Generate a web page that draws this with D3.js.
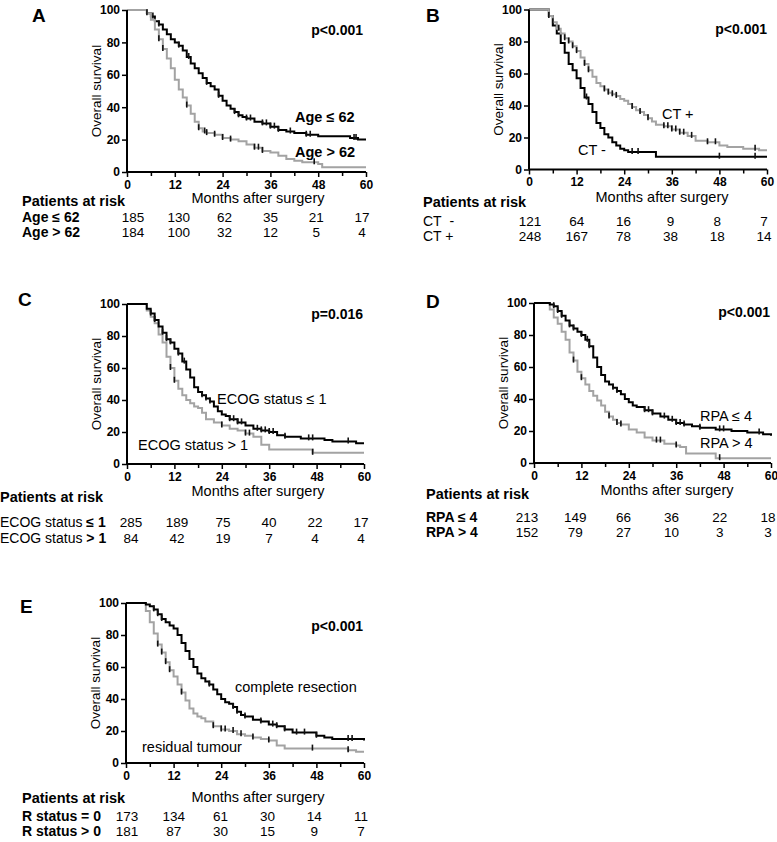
<!DOCTYPE html>
<html><head><meta charset="utf-8">
<script src="https://cdn.jsdelivr.net/npm/d3@7"></script>
<style>body{margin:0;background:#fff} svg{display:block;font-family:"Liberation Sans",Arial,sans-serif}</style>
</head><body><svg id="c" width="777" height="842"></svg>
<script>
// ---------- data ----------
const monthTicks = [0, 12, 24, 36, 48, 60];
const minorTicks = [6, 18, 30, 42, 54];
const survTicks = [0, 20, 40, 60, 80, 100];

const curveA1 = [[0,100],[4,100],[5,98],[6,96],[7,93],[8,91],[9,88],[10,85],[11,82],[12,80],[13,78],[14,75],[15,71],[16,67],[17,64],[18,61],[19,58],[20,55],[21,53],[22,51],[23,47],[24,44],[25,41],[26,39],[27,37],[28,35],[29,34],[30,33],[32,31],[34,30],[36,28],[38,26],[40,25],[42,24],[45,23],[48,22],[56,21],[58,20],[60,20]];
const curveA2 = [[0,100],[4.5,100],[5,98],[6,94],[7,88],[8,82],[9,76],[10,70],[11,64],[12,57],[13,51],[14,46],[15,41],[16,36],[17,31],[18,27],[19,25],[20,24],[22,23],[24,21],[26,20],[28,19],[30,17],[32,15],[34,13],[36,12],[38,10],[40,8],[42,7],[44,6],[48,5],[49,3],[60,3]];
const censorA1 = [5,6.5,8,13,15.5,20,23,27,28,30,31,34,35,36,37,38,41,45,46,57,57.5];
const censorA2 = [8,9,15,18,19.5,20,22,24,26,32,33,34,47];

const curveB1 = [[0,100],[4,100],[5,96],[6,90],[7,85],[8,79],[9,73],[10,66],[11,62],[12,57],[13,51],[14,45],[15,41],[16,36],[17,29],[18,26],[19,22],[20,20],[21,17],[22,15],[23,13],[24,12],[25,11],[32,8],[60,8]];
const curveB2 = [[0,100],[4,100],[5,96],[6,92],[7,88],[8,85],[9,82],[10,80],[11,77],[12,74],[13,70],[14,66],[15,62],[16,58],[17,54],[18,52],[19,50],[20,48],[21,47],[22,46],[23,44],[24,43],[25,41],[26,39],[27,37],[28,36],[29,34],[30,32],[31,30],[32,28],[34,27],[36,25],[38,23],[40,21],[42,18],[45,17],[48,15],[50,14],[54,13],[58,12],[60,12]];
const censorB1 = [14.5,26,27.5,48,57];
const censorB2 = [5,6,7.5,9,10,11,12,14,15,19,20,21,22,26,28,30,34,35,36,37,38,39,41,45,47,57];

const curveC1 = [[0,100],[4,100],[5,97],[6,94],[7,90],[8,86],[9,82],[10,78],[11,76],[12,72],[13,69],[14,64],[15,59],[16,54],[17,48],[18,45],[19,43],[20,41],[21,39],[22,36],[23,33],[24,31],[25,30],[26,28],[28,26],[30,24],[32,22],[34,21],[36,20],[38,18],[40,17],[44,16],[48,16],[50,15],[52,14],[58,13],[60,13]];
const curveC2 = [[0,100],[4,100],[5,96],[6,92],[7,88],[8,81],[9,76],[10,67],[11,60],[12,52],[13,47],[14,43],[15,40],[16,38],[17,36],[18,35],[19,32],[20,28],[22,26],[24,24],[26,22],[28,21],[30,19],[32,17],[34,12],[36,9],[44,9],[47,7],[60,7]];
const censorC1 = [6,7,9,10,11,13,14.5,19,20,21,26,27,28,29,33,34,35,36,37,40,46,47,56];
const censorC2 = [11,12,24,30,31,47];

const curveD1 = [[0,100],[3,100],[4,99],[5,98],[6,95],[7,92],[8,89],[9,86],[10,84],[11,82],[12,80],[13,77],[14,73],[15,66],[16,60],[17,55],[18,51],[19,49],[20,47],[21,45],[22,43],[23,40],[24,38],[25,36],[26,35],[28,33],[30,31],[32,29],[34,27],[36,25],[38,24],[40,23],[42,22],[46,21],[50,20],[54,19],[58,18],[60,17]];
const curveD2 = [[0,100],[3,100],[4,96],[5,91],[6,87],[7,82],[8,77],[9,69],[10,64],[11,57],[12,53],[13,49],[14,45],[15,42],[16,39],[17,36],[18,32],[19,29],[20,27],[21,25],[22,24],[24,21],[26,19],[28,16],[30,14],[33,12],[36,11],[37,10],[38.5,6],[45.5,6],[46,3],[60,3]];
const censorD1 = [5,6,7,9,10,12,13.5,14,20,21,28,29,30,33,35,36,37,38,42,47,48,57];
const censorD2 = [10,12,19,21,22,31,32,36,47];

const curveE1 = [[0,100],[4,100],[5,99],[6,98],[7,96],[8,93],[9,90],[10,88],[11,86],[12,84],[13,80],[14,75],[15,70],[16,65],[17,60],[18,56],[19,53],[20,51],[21,49],[22,46],[23,43],[24,40],[25,38],[26,37],[27,35],[28,32],[29,30],[30,29],[32,27],[34,26],[36,24],[38,23],[40,21],[42,19],[46,19],[48,17],[50,16],[52,15],[60,14]];
const curveE2 = [[0,100],[4,100],[5,95],[6,88],[7,81],[8,74],[9,69],[10,63],[11,58],[12,54],[13,49],[14,44],[15,39],[16,34],[17,31],[18,29],[19,28],[20,26],[22,23],[24,21],[26,20],[28,18],[30,17],[32,16],[34,15],[36,14],[38,11],[40,9],[55,9],[56,8],[58,7],[60,7]];
const censorE1 = [7,8,9,21,27,28,30,34,37,38,40,43,45,48,56,57];
const censorE2 = [8,9,10,11,14,22,24,25,27,29,32,36,47,56];

const riskA1 = [185,130,62,35,21,17], riskA2 = [184,100,32,12,5,4];
const riskB1 = [121,64,16,9,8,7],     riskB2 = [248,167,78,38,18,14];
const riskC1 = [285,189,75,40,22,17], riskC2 = [84,42,19,7,4,4];
const riskD1 = [213,149,66,36,22,18], riskD2 = [152,79,27,10,3,3];
const riskE1 = [173,134,61,30,14,11], riskE2 = [181,87,30,15,9,7];

const pValues = ["p<0.001","p<0.001","p=0.016","p<0.001","p<0.001"];
const curveLabelsA = ["Age \u2264 62","Age > 62"];
const curveLabelsB = ["CT +","CT -"];
const curveLabelsC = ["ECOG status \u2264 1","ECOG status > 1"];
const curveLabelsD = ["RPA \u2264 4","RPA > 4"];
const curveLabelsE = ["complete resection","residual tumour"];
const rowLabelsA = [["Age \u2264 62"],["Age > 62"]];
const rowLabelsB = [["CT\u00a0 -"],["CT +"]];
const rowLabelsC = [["ECOG status ","\u2264 1"],["ECOG status ","> 1"]];
const rowLabelsD = [["RPA \u2264 4"],["RPA > 4"]];
const rowLabelsE = [["R status = 0"],["R status > 0"]];

// ---------- layout ----------
const BLACK = "#000", GRAY = "#a3a3a3";
const panels = [
 {id:"A", L:127,R:366,T:10,B:172, lx:32,ly:22, px:363,py:35,
  curves:[{d:curveA1,c:censorA1,col:BLACK},{d:curveA2,c:censorA2,col:GRAY}],
  labels:curveLabelsA, labPos:[[295,122],[295,157]], labBold:true,
  tab:{hx:22,hy:206,mx:258,my:203,rows:[222,237],rx:22,n0:133,n1:362,bold:[true,true]},
  risk:[riskA1,riskA2], rowLab:rowLabelsA},
 {id:"B", L:529,R:767,T:9.5,B:169.5, lx:426,ly:22, px:767,py:34,
  curves:[{d:curveB1,c:censorB1,col:BLACK},{d:curveB2,c:censorB2,col:GRAY}],
  labels:curveLabelsB, labPos:[[662,119],[578,155]], labBold:false,
  tab:{hx:423,hy:207,mx:662,my:202,rows:[226,241],rx:423,n0:530,n1:764,bold:[false,false]},
  risk:[riskB1,riskB2], rowLab:rowLabelsB},
 {id:"C", L:127,R:364,T:304,B:464, lx:18,ly:306, px:363,py:319,
  curves:[{d:curveC2,c:censorC2,col:GRAY},{d:curveC1,c:censorC1,col:BLACK}],
  labels:curveLabelsC, labPos:[[217,404],[138,450]], labBold:false,
  tab:{hx:0,hy:502,mx:258,my:496,rows:[527,543],rx:0,n0:131,n1:361,bold:[true,true]},
  risk:[riskC1,riskC2], rowLab:rowLabelsC},
 {id:"D", L:534,R:771,T:303,B:463, lx:426,ly:308, px:770,py:317,
  curves:[{d:curveD2,c:censorD2,col:GRAY},{d:curveD1,c:censorD1,col:BLACK}],
  labels:curveLabelsD, labPos:[[700,421],[700,448]], labBold:false,
  tab:{hx:426,hy:499,mx:667,my:495,rows:[522,537],rx:426,n0:527,n1:768,bold:[true,true]},
  risk:[riskD1,riskD2], rowLab:rowLabelsD},
 {id:"E", L:126,R:364,T:603,B:763, lx:20,ly:613, px:363,py:631,
  curves:[{d:curveE2,c:censorE2,col:GRAY},{d:curveE1,c:censorE1,col:BLACK}],
  labels:curveLabelsE, labPos:[[235,692],[142,752]], labBold:false,
  tab:{hx:22,hy:803,mx:258,my:802,rows:[821,836],rx:22,n0:127,n1:361,bold:[true,true]},
  risk:[riskE1,riskE2], rowLab:rowLabelsE}
];

const svg = d3.select("#c");
function stepVal(curve, t){ let s = curve[0][1]; for (const p of curve){ if (p[0] <= t) s = p[1]; else break; } return s; }

panels.forEach((p, i) => {
  const g = svg.append("g");
  const x = d3.scaleLinear().domain([0,60]).range([p.L,p.R]);
  const y = d3.scaleLinear().domain([0,100]).range([p.B,p.T]);

  const line = d3.line().x(d=>x(d[0])).y(d=>y(d[1])).curve(d3.curveStepAfter);
  p.curves.forEach(cv => {
    g.append("path").datum(cv.d).attr("d", line).attr("fill","none")
      .attr("stroke", cv.col).attr("stroke-width", 2);
  });
  p.curves.forEach(cv => {
    g.selectAll(null).data(cv.c).enter().append("line")
      .attr("x1", t=>x(t)).attr("x2", t=>x(t))
      .attr("y1", t=>y(stepVal(cv.d,t))-4).attr("y2", t=>y(stepVal(cv.d,t))+2)
      .attr("stroke", "#111").attr("stroke-width", 1.6);
  });

  const xAx = g.append("g").attr("transform",`translate(0,${p.B})`)
    .call(d3.axisBottom(x).tickValues(monthTicks).tickSize(5).tickPadding(3));
  g.append("g").attr("transform",`translate(0,${p.B})`)
    .call(d3.axisBottom(x).tickValues(minorTicks).tickSize(4).tickFormat(""))
    .call(a=>a.select(".domain").remove());
  const yAx = g.append("g").attr("transform",`translate(${p.L},0)`)
    .call(d3.axisLeft(y).tickValues(survTicks).tickSize(5).tickPadding(2));
  g.selectAll(".domain").attr("stroke-width",2).attr("stroke","#000");
  g.selectAll(".tick line").attr("stroke-width",1.5).attr("stroke","#000");
  g.selectAll(".tick text").attr("font-family","Liberation Sans, Arial, sans-serif")
    .attr("font-size",12).attr("font-weight","bold").attr("fill","#000");
  [xAx,yAx].forEach(a=>a.select(".domain").attr("d", a===xAx ? `M${p.L},0H${p.R}` : `M0,${p.B}V${p.T}`));

  g.append("text").attr("transform",`translate(${p.L-31},${(p.T+p.B)/2}) rotate(-90)`)
    .attr("text-anchor","middle").attr("dominant-baseline","central")
    .attr("font-size",13.5).text("Overall survival");

  g.append("text").attr("x",p.lx).attr("y",p.ly).attr("font-size",19).attr("font-weight","bold").text(p.id);
  g.append("text").attr("x",p.px).attr("y",p.py).attr("text-anchor","end")
    .attr("font-size",14).attr("font-weight","bold").text(pValues[i]);
  p.labels.forEach((t,k)=>{
    g.append("text").attr("x",p.labPos[k][0]).attr("y",p.labPos[k][1])
      .attr("font-size",14.5).attr("font-weight", p.labBold ? "bold":"normal").text(t);
  });

  const tb = p.tab;
  g.append("text").attr("x",tb.hx).attr("y",tb.hy).attr("font-size",14.5).attr("font-weight","bold").text("Patients at risk");
  g.append("text").attr("x",tb.mx).attr("y",tb.my).attr("text-anchor","middle").attr("font-size",14.5).text("Months after surgery");
  const colX = d3.scaleLinear().domain([0,60]).range([tb.n0,tb.n1]);
  p.risk.forEach((row,r)=>{
    const lab = g.append("text").attr("x",tb.rx).attr("y",tb.rows[r]).attr("font-size",14);
    const parts = p.rowLab[r];
    parts.forEach((s,k)=>{
      lab.append("tspan").attr("font-weight", (tb.bold[r] && (parts.length===1 || k===1)) ? "bold":"normal").text(s);
    });
    g.selectAll(null).data(row).enter().append("text")
      .attr("x",(v,k)=>colX(monthTicks[k])).attr("y",tb.rows[r])
      .attr("text-anchor","middle").attr("font-size",13.5).text(v=>v);
  });
});
</script></body></html>
